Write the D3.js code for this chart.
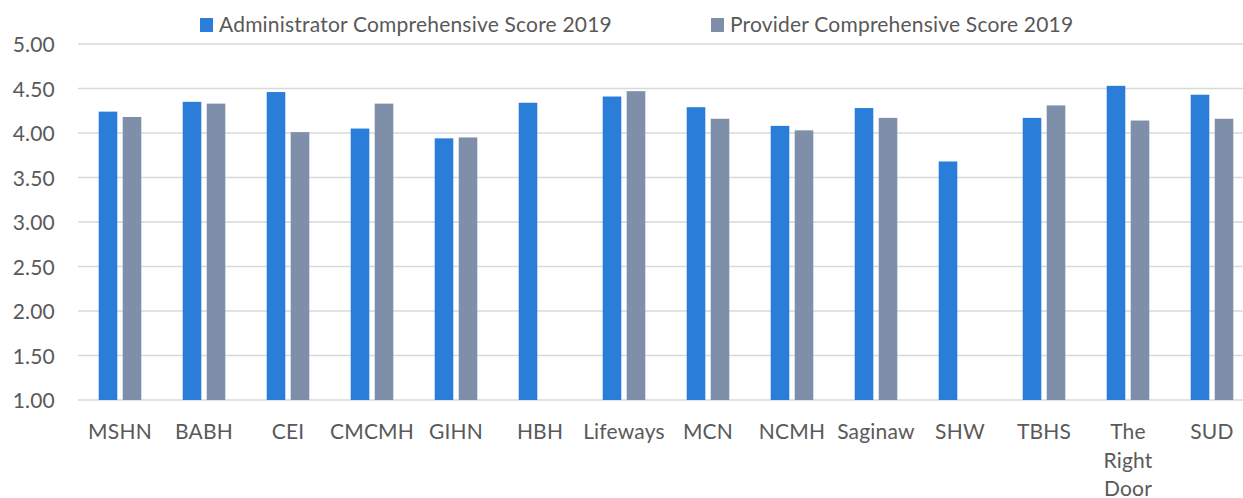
<!DOCTYPE html>
<html><head><meta charset="utf-8">
<script src="https://cdn.jsdelivr.net/npm/d3@7"></script>
<style>body{margin:0;background:#fff}svg{display:block}text{font-family:Lato,sans-serif;fill:#595959;letter-spacing:0.2px}</style>
</head><body><svg id="c" width="1243" height="498"></svg>
<script>
const categories = ["MSHN","BABH","CEI","CMCMH","GIHN","HBH","Lifeways","MCN","NCMH","Saginaw","SHW","TBHS","The Right Door","SUD"];
const adminScores = [4.24,4.35,4.46,4.05,3.94,4.34,4.41,4.29,4.08,4.28,3.68,4.17,4.53,4.43];
const providerScores = [4.18,4.33,4.01,4.33,3.95,null,4.47,4.16,4.03,4.17,null,4.31,4.14,4.16];
const seriesNames = ["Administrator Comprehensive Score 2019","Provider Comprehensive Score 2019"];
const yTicks = [1.00,1.50,2.00,2.50,3.00,3.50,4.00,4.50,5.00];
const colors = ["#2a7dd9","#7f8fa9"];

const svg = d3.select("#c");
const FONT = 'Lato,sans-serif';
const FS = "21px";
const M = {left: 78, right: 1254, top: 44, bottom: 400};
const x = d3.scaleBand().domain(categories).range([M.left, M.right]).paddingInner(0).paddingOuter(0);
const y = d3.scaleLinear().domain([1,5]).range([M.bottom, M.top]);
const barW = 18.6, gap = 5.4;

// gridlines
svg.append("g").selectAll("line").data(yTicks).join("line")
  .attr("x1", M.left).attr("x2", 1243)
  .attr("y1", d => y(d)).attr("y2", d => y(d))
  .attr("stroke", "#d9d9d9").attr("stroke-width", 1.3);

// y axis labels
const yAxis = d3.axisLeft(y).tickValues(yTicks).tickFormat(d3.format(".2f")).tickSize(0).tickPadding(0);
const ya = svg.append("g").attr("transform", `translate(55,0)`).call(yAxis);
ya.select(".domain").remove();
ya.selectAll("text").style("font-size",FS).attr("fill","#595959").attr("dy","0.36em")
  .style("font-family",FONT);

const series = [adminScores, providerScores];
series.forEach((vals, si) => {
  svg.append("g").selectAll("rect").data(categories.map((c,i)=>({c, v: vals[i]})).filter(d => d.v != null))
    .join("rect")
    .attr("x", d => x(d.c) + x.bandwidth()/2 - gap/2 - barW + si*(barW+gap))
    .attr("y", d => y(d.v))
    .attr("width", barW)
    .attr("height", d => y(1) - y(d.v))
    .attr("fill", colors[si]);
});

// x axis labels
const xa = svg.append("g");
categories.forEach(c => {
  const words = c.split(" ");
  const t = xa.append("text").attr("x", x(c) + x.bandwidth()/2).attr("y", 439)
    .attr("text-anchor","middle").style("font-size",FS);
  words.forEach((w,i) => t.append("tspan").attr("x", x(c) + x.bandwidth()/2).attr("dy", i===0?0:28.5).text(w));
});

// legend
const legend = [{x:200, tx:219},{x:711, tx:730}];
legend.forEach((l,i)=>{
  svg.append("rect").attr("x", l.x).attr("y", 18).attr("width", 13).attr("height", 14).attr("fill", colors[i]);
  svg.append("text").attr("x", l.tx).attr("y", 32).style("font-size",FS).text(seriesNames[i]);
});
</script></body></html>
